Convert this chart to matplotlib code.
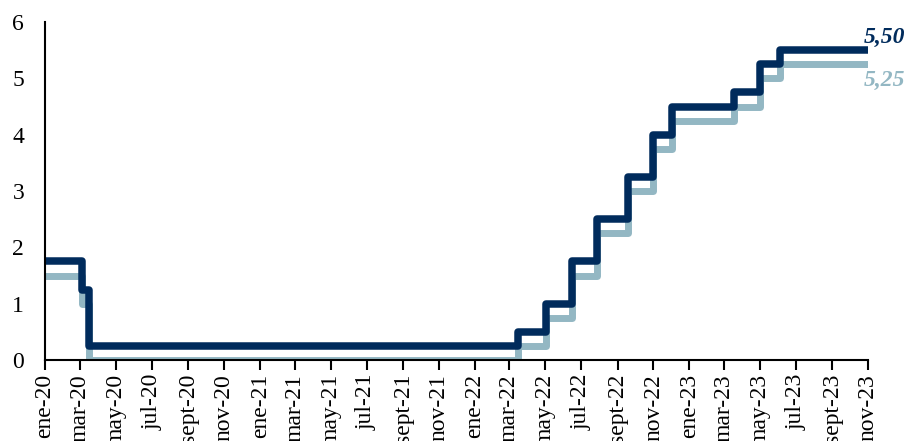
import matplotlib
matplotlib.use("Agg")
import matplotlib.pyplot as plt
import pandas as pd

# fechas de cambio del rango objetivo
change_dates = ["2020-01-01", "2020-03-04", "2020-03-15", "2022-03-15", "2022-05-03",
                "2022-06-15", "2022-07-28", "2022-09-18", "2022-11-01", "2022-12-03",
                "2023-03-18", "2023-05-01", "2023-06-05", "2023-11-01"]
upper = [1.75, 1.25, 0.25, 0.50, 1.00, 1.75, 2.50, 3.25, 4.00, 4.50, 4.75, 5.25, 5.50, 5.50]
lower = [1.50, 1.00, 0.00, 0.25, 0.75, 1.50, 2.25, 3.00, 3.75, 4.25, 4.50, 5.00, 5.25, 5.25]

tick_dates = pd.date_range("2020-01-01", "2023-11-01", freq="2MS")
mes = {1: "ene", 3: "mar", 5: "may", 7: "jul", 9: "sept", 11: "nov"}
tick_labels = [f"{mes[d.month]}-{d.strftime('%y')}" for d in tick_dates]

dark = "#002b5c"
light = "#93b7c3"

plt.rcParams["font.family"] = ["Liberation Serif", "DejaVu Serif"]

x = pd.to_datetime(change_dates)

fig = plt.figure(figsize=(9.08, 4.41), dpi=100)
ax = fig.add_axes([45 / 908, 81 / 441, 823 / 908, 338 / 441])

ax.plot(x, lower, drawstyle="steps-post", color=light, lw=5.0)
ax.plot(x, upper, drawstyle="steps-post", color=dark, lw=5.4)

ax.set_xlim(pd.Timestamp("2020-01-01"), pd.Timestamp("2023-11-01"))
ax.set_ylim(0, 6)
ax.set_xticks(tick_dates)
ax.set_xticklabels(tick_labels, rotation=90, fontsize=17)
ax.tick_params(axis="x", direction="out", length=7, width=1.5, pad=3)
ax.tick_params(axis="y", length=0, pad=15, labelsize=17)
ax.set_yticks(range(0, 7))

for s in ["top", "right"]:
    ax.spines[s].set_visible(False)
for s in ["left", "bottom"]:
    ax.spines[s].set_linewidth(1.5)

ax.annotate("5,50", (x[-1], upper[-1]), xytext=(12, 9), textcoords="offset points",
            ha="center", va="center", fontsize=17, fontweight="bold", style="italic",
            color=dark, annotation_clip=False)
ax.annotate("5,25", (x[-1], lower[-1]), xytext=(12, -12), textcoords="offset points",
            ha="center", va="center", fontsize=17, fontweight="bold", style="italic",
            color=light, annotation_clip=False)

fig.savefig("out.png", dpi=100)
